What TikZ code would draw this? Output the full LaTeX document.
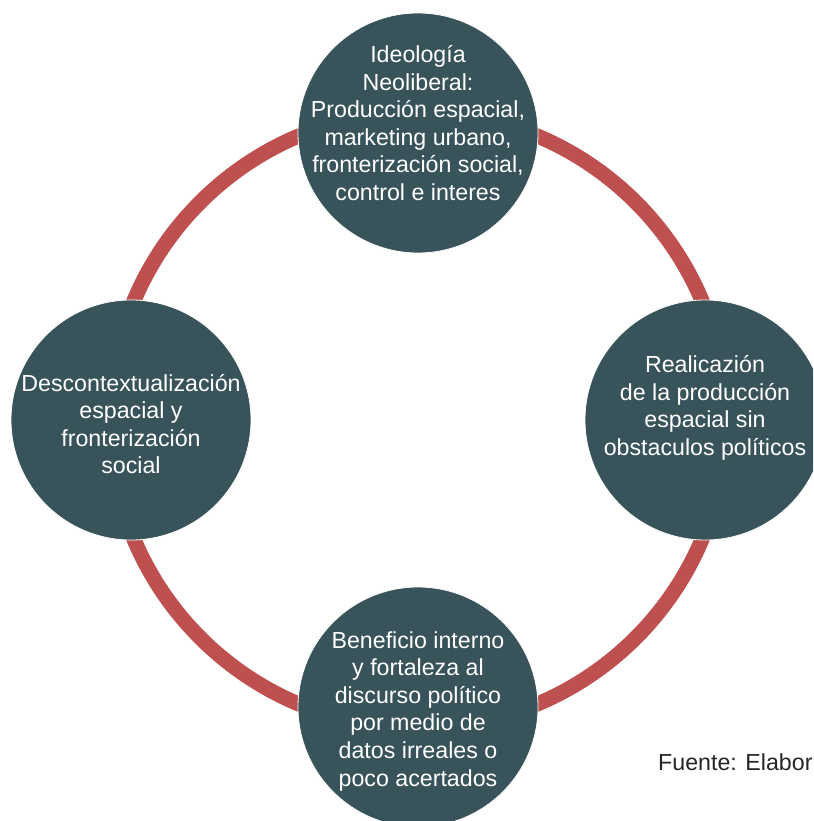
\documentclass[tikz,border=0pt]{standalone}
\usepackage{fontspec}
\setmainfont{Liberation Sans}
\usetikzlibrary{positioning}

\definecolor{ringred}{HTML}{BE5150}
\definecolor{slate}{HTML}{38535A}

\tikzset{
  stage/.style={circle, fill=slate, draw=white, line width=0.8pt, minimum size=240pt,
                inner sep=0pt},
  stagetext/.style={text=white, align=center, inner sep=0pt,
                font=\fontsize{23.2}{27.6}\selectfont},
  ring/.style={draw=ringred, line width=15pt}
}

\begin{document}
\begin{tikzpicture}[x=1pt, y=-1pt, node distance = 287pt]
  \clip (0,0) rectangle (813,821);

  \coordinate (c) at (418,420);
  \draw[ring] (c) circle (308pt);

  \node[stage, above of = c] (ideo) {};
  \node[stage, right of = c] (real) {};
  \node[stage, below of = c] (bene) {};
  \node[stage, left of = c] (desc) {};

  \node[stagetext, yshift=10pt] at (ideo) (ideotext)
  {Ideología\\Neoliberal:\\Producción espacial,\\marketing urbano,\\fronterización social,\\control e interes};
  \node[stagetext, yshift=12pt] at (real) (realtext)
  {Realicazión\\de la producción\\espacial sin\\obstaculos políticos};
  \node[stagetext, yshift=-4pt] at (bene) (benetext)
  {Beneficio interno\\y fortaleza al\\discurso político\\por medio de\\datos irreales o\\poco acertados};
  \node[stagetext, yshift=-4pt] at (desc) (desctext)
  {Descontextualización\\espacial y\\fronterización\\social};

  \node[anchor=west, inner sep=0pt, text=black!85, font=\fontsize{23.2}{27.6}\selectfont] at (658,762) (fuente) {Fuente: Elabor};
\end{tikzpicture}
\end{document}
